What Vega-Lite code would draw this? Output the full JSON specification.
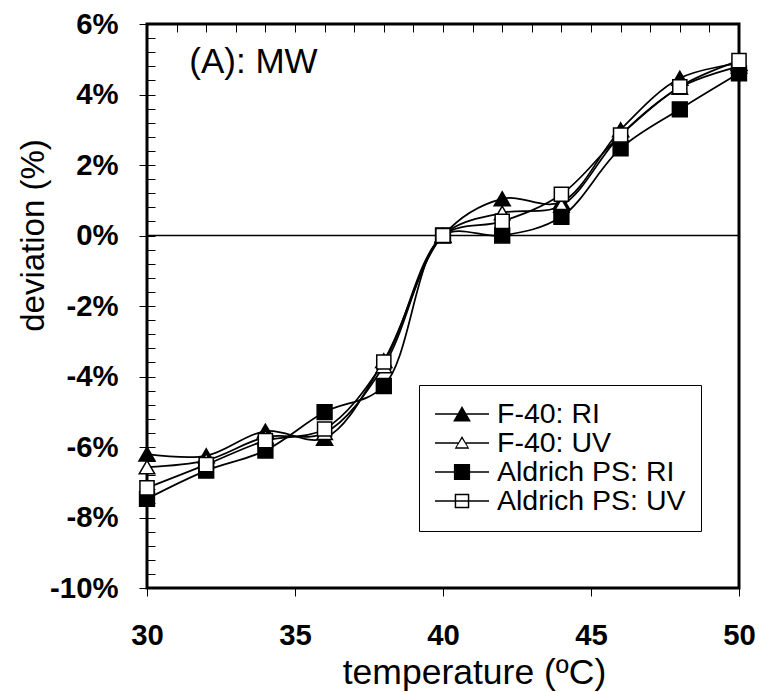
{
  "$schema": "https://vega.github.io/schema/vega-lite/v6.json",
  "autosize": {"type": "none"},
  "padding": {"left": 147, "top": 24, "right": 21, "bottom": 104},
  "width": 592,
  "height": 564,
  "background": "white",
  "config": {
    "view": {"stroke": "black", "strokeWidth": 3},
    "font": "Liberation Sans"
  },
  "resolve": {"scale": {"shape": "independent"}},
  "datasets": {
    "main": [
      {"series": "F-40: RI", "t": 30, "dev": -6.2},
      {"series": "F-40: RI", "t": 32, "dev": -6.25},
      {"series": "F-40: RI", "t": 34, "dev": -5.55},
      {"series": "F-40: RI", "t": 36, "dev": -5.75},
      {"series": "F-40: RI", "t": 38, "dev": -3.55},
      {"series": "F-40: RI", "t": 40, "dev": 0},
      {"series": "F-40: RI", "t": 42, "dev": 1.04},
      {"series": "F-40: RI", "t": 44, "dev": 0.95},
      {"series": "F-40: RI", "t": 46, "dev": 3.0},
      {"series": "F-40: RI", "t": 48, "dev": 4.46},
      {"series": "F-40: RI", "t": 50, "dev": 4.88},
      {"series": "F-40: UV", "t": 30, "dev": -6.57},
      {"series": "F-40: UV", "t": 32, "dev": -6.38},
      {"series": "F-40: UV", "t": 34, "dev": -5.72},
      {"series": "F-40: UV", "t": 36, "dev": -5.6},
      {"series": "F-40: UV", "t": 38, "dev": -3.7},
      {"series": "F-40: UV", "t": 40, "dev": 0},
      {"series": "F-40: UV", "t": 42, "dev": 0.64},
      {"series": "F-40: UV", "t": 44, "dev": 0.85},
      {"series": "F-40: UV", "t": 46, "dev": 2.85},
      {"series": "F-40: UV", "t": 48, "dev": 4.2},
      {"series": "F-40: UV", "t": 50, "dev": 4.8},
      {"series": "Aldrich PS: RI", "t": 30, "dev": -7.47},
      {"series": "Aldrich PS: RI", "t": 32, "dev": -6.67},
      {"series": "Aldrich PS: RI", "t": 34, "dev": -6.1},
      {"series": "Aldrich PS: RI", "t": 36, "dev": -5.01},
      {"series": "Aldrich PS: RI", "t": 38, "dev": -4.27},
      {"series": "Aldrich PS: RI", "t": 40, "dev": 0},
      {"series": "Aldrich PS: RI", "t": 42, "dev": 0},
      {"series": "Aldrich PS: RI", "t": 44, "dev": 0.53},
      {"series": "Aldrich PS: RI", "t": 46, "dev": 2.47},
      {"series": "Aldrich PS: RI", "t": 48, "dev": 3.58},
      {"series": "Aldrich PS: RI", "t": 50, "dev": 4.6},
      {"series": "Aldrich PS: UV", "t": 30, "dev": -7.16},
      {"series": "Aldrich PS: UV", "t": 32, "dev": -6.5},
      {"series": "Aldrich PS: UV", "t": 34, "dev": -5.82},
      {"series": "Aldrich PS: UV", "t": 36, "dev": -5.49},
      {"series": "Aldrich PS: UV", "t": 38, "dev": -3.59},
      {"series": "Aldrich PS: UV", "t": 40, "dev": 0},
      {"series": "Aldrich PS: UV", "t": 42, "dev": 0.4},
      {"series": "Aldrich PS: UV", "t": 44, "dev": 1.17},
      {"series": "Aldrich PS: UV", "t": 46, "dev": 2.85},
      {"series": "Aldrich PS: UV", "t": 48, "dev": 4.22},
      {"series": "Aldrich PS: UV", "t": 50, "dev": 4.96}
    ]
  },
  "layer": [
    {
      "data": {"values": [{"dev": 0}]},
      "mark": {"type": "rule", "color": "black", "strokeWidth": 1.5},
      "encoding": {
        "y": {"field": "dev", "type": "quantitative"}
      }
    },
    {
      "data": {"name": "main"},
      "mark": {"type": "line", "interpolate": "catmull-rom", "color": "black", "strokeWidth": 1.75},
      "encoding": {
        "x": {
          "field": "t", "type": "quantitative",
          "scale": {"domain": [30, 50], "nice": false, "zero": false},
          "axis": {
            "values": [30,31,32,33,34,35,36,37,38,39,40,41,42,43,44,45,46,47,48,49,50],
            "tickCount": 500,
            "labelExpr": "datum.value % 5 === 0 ? '' + datum.value : ''",
            "labelFont": "Liberation Sans", "labelFontWeight": "bold", "labelFontSize": 29.3, "labelColor": "black",
            "labelPadding": 25, "labelFlush": false, "labelOverlap": false,
            "tickSize": 8, "tickColor": "black", "tickWidth": 1,
            "tickOpacity": {"condition": {"test": "datum.value % 5 === 0", "value": 1}, "value": 0},
            "grid": true, "gridDash": [8, 2000], "gridColor": "black", "gridWidth": 1, "gridOpacity": 1,
            "domain": false,
            "title": "temperature (ºC)", "titleFont": "Liberation Sans", "titleFontSize": 35.5, "titleFontWeight": "normal", "titleColor": "black",
            "titleX": 327, "titleY": 95, "titleBaseline": "alphabetic", "titleAlign": "center"
          }
        },
        "y": {
          "field": "dev", "type": "quantitative",
          "scale": {"domain": [-10, 6], "nice": false, "zero": false},
          "axis": {
            "values": [-10,-9.6,-9.2,-8.8,-8.4,-8,-7.6,-7.2,-6.8,-6.4,-6,-5.6,-5.2,-4.8,-4.4,-4,-3.6,-3.2,-2.8,-2.4,-2,-1.6,-1.2,-0.8,-0.4,0,0.4,0.8,1.2,1.6,2,2.4,2.8,3.2,3.6,4,4.4,4.8,5.2,5.6,6],
            "tickCount": 500,
            "labelExpr": "abs(datum.value % 2) < 0.001 ? datum.value + '%' : ''",
            "labelFont": "Liberation Sans", "labelFontWeight": "bold", "labelFontSize": 29.3, "labelColor": "black",
            "labelPadding": 21, "labelFlush": false, "labelOverlap": false,
            "tickSize": 8, "tickColor": "black", "tickWidth": 1,
            "tickOpacity": {"condition": {"test": "abs(datum.value % 2) < 0.001", "value": 1}, "value": 0},
            "grid": true, "gridDash": [8, 2000], "gridColor": "black", "gridWidth": 1, "gridOpacity": 1,
            "domain": false,
            "title": "deviation (%)", "titleFont": "Liberation Sans", "titleFontSize": 33, "titleFontWeight": "normal", "titleColor": "black",
            "titleX": -104, "titleY": 211, "titleBaseline": "alphabetic", "titleAlign": "center", "titleAngle": -90
          }
        },
        "detail": {"field": "series", "type": "nominal"}
      }
    },
    {
      "data": {"name": "main"},
      "mark": {"type": "point", "filled": false, "stroke": "black", "strokeWidth": 1.5, "opacity": 1},
      "encoding": {
        "x": {"field": "t", "type": "quantitative"},
        "y": {"field": "dev", "type": "quantitative"},
        "shape": {
          "field": "series", "type": "nominal",
          "scale": {
            "domain": ["Aldrich PS: RI", "Aldrich PS: UV", "F-40: RI", "F-40: UV"],
            "range": ["square", "square", "triangle-up", "triangle-up"]
          },
          "legend": null
        },
        "fill": {
          "field": "series", "type": "nominal",
          "scale": {
            "domain": ["F-40: UV", "F-40: RI", "Aldrich PS: UV", "Aldrich PS: RI"],
            "range": ["white", "black", "white", "black"]
          },
          "legend": null
        },
        "size": {
          "field": "series", "type": "nominal",
          "scale": {
            "domain": ["Aldrich PS: UV", "Aldrich PS: RI", "F-40: UV", "F-40: RI"],
            "range": [200, 260, 220, 300]
          },
          "legend": null
        }
      }
    },
    {
      "data": {"name": "main"},
      "mark": {"type": "point", "filled": true, "color": "black", "opacity": 0},
      "encoding": {
        "x": {"field": "t", "type": "quantitative"},
        "y": {"field": "dev", "type": "quantitative"},
        "shape": {
          "field": "series", "type": "nominal",
          "scale": {
            "domain": ["F-40: RI", "F-40: UV", "Aldrich PS: RI", "Aldrich PS: UV"],
            "range": [
              "M-1,-0.03H1V0.03H-1ZM0,-0.3L0.33,0.28L-0.33,0.28Z",
              "M-1,-0.03H-0.14V0.03H-1ZM0.14,-0.03H1V0.03H0.14ZM0,-0.26L0.27,0.21L-0.27,0.21ZM0,-0.16L-0.2,0.16L0.2,0.16Z",
              "M-1,-0.03H1V0.03H-1ZM-0.3,-0.3H0.3V0.3H-0.3Z",
              "M-1,-0.03H1V0.03H-1ZM-0.27,-0.27H0.27V0.27H-0.27ZM-0.215,-0.215V0.215H0.215V-0.215Z"
            ]
          },
          "legend": {
            "title": null,
            "orient": "none", "legendX": 272, "legendY": 361,
            "padding": 15, "strokeColor": "black", "fillColor": "white",
            "labelFont": "Liberation Sans", "labelFontSize": 28.5, "labelColor": "black", "labelLimit": 400,
            "labelOffset": 7, "rowPadding": 0, "clipHeight": 28,
            "symbolSize": 2916, "symbolStrokeWidth": 1.5, "symbolStrokeColor": "black",
            "encode": {
              "symbols": {
                "fill": {"value": "black"},
                "fillOpacity": {"value": 1},
                "opacity": {"value": 1}
              }
            }
          }
        }
      }
    },
    {
      "data": {"values": [{"t": 31.43, "dev": 4.6, "label": "(A): MW"}]},
      "mark": {"type": "text", "align": "left", "baseline": "alphabetic", "font": "Liberation Sans", "fontSize": 35, "color": "black"},
      "encoding": {
        "x": {"field": "t", "type": "quantitative"},
        "y": {"field": "dev", "type": "quantitative"},
        "text": {"field": "label"}
      }
    }
  ]
}
